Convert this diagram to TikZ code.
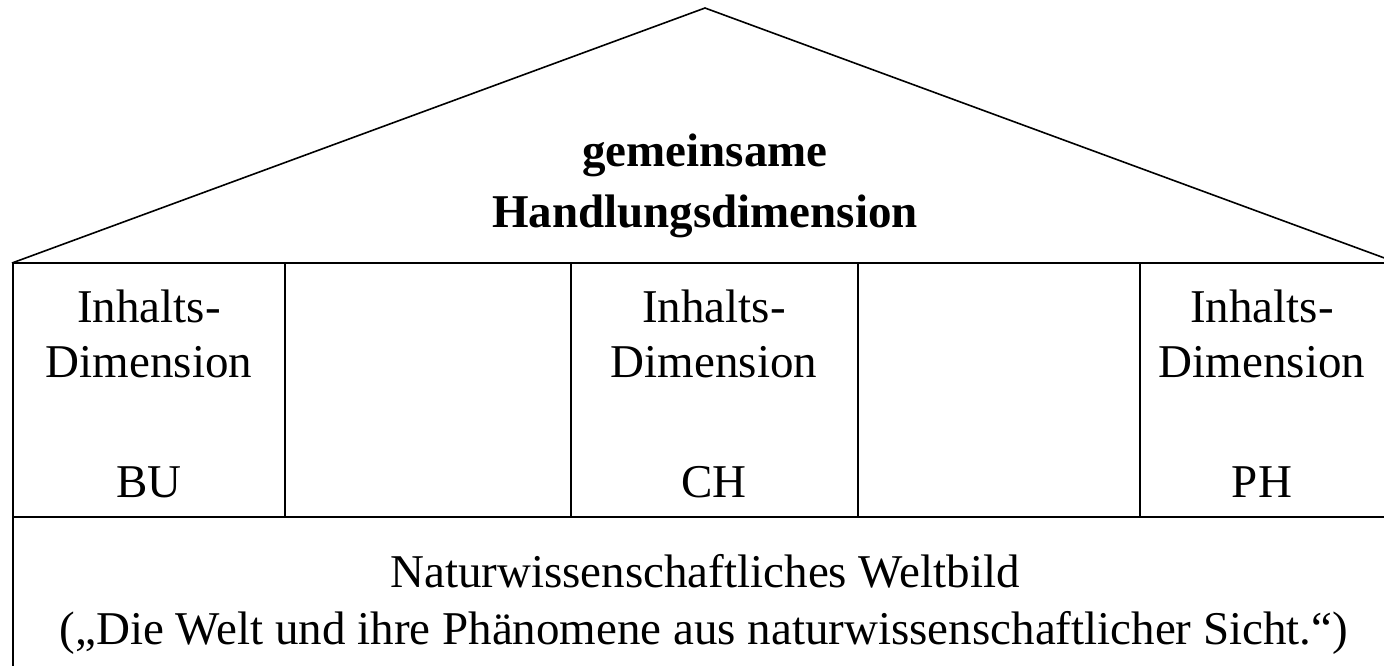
\documentclass[tikz,border=0pt]{standalone}
\usepackage{fontspec}
\setmainfont{Liberation Serif}
\begin{document}
\begin{tikzpicture}[x=1pt,y=-1pt,
  frame/.style={line width=1.6pt,black,line join=miter},
  txt/.style={font=\fontsize{47}{55}\selectfont,anchor=base,inner sep=0pt},
  btxt/.style={font=\fontsize{47}{55}\selectfont\bfseries,anchor=base,inner sep=0pt}]
\useasboundingbox (0,0) rectangle (1384,665);
\fill[white] (0,0) rectangle (1384,665);
\clip (0,0) rectangle (1384,665);
% key points
\coordinate (roofL) at (12,263);
\coordinate (apex) at (705,8);
\coordinate (roofR) at (1398,263);
\coordinate (baseL) at (13,517);
\coordinate (baseR) at (1398,517);
\coordinate (floorL) at (13,670);
% roof
\draw[frame] (roofL) -- (apex) -- (roofR);
\draw[frame] (roofL) -- (roofR);
% left wall
\draw[frame] (13,263) -- (floorL);
% dividers
\foreach \x/\n in {285/a,571/b,858/c,1140/d}{
  \draw[frame] (\x,263) -- (\x,517);
}
% floor line
\draw[frame] (baseL) -- (baseR);
% roof text
\node[btxt] (g1) at (705,166) {gemeinsame};
\node[btxt] (g2) at (705,227) {Handlungsdimension};
% columns
\node[txt] (i1) at (149,322) {Inhalts-};
\node[txt] (d1) at (149,377) {Dimension};
\node[txt] (bu) at (149,497) {BU};
\node[txt] (i2) at (714,322) {Inhalts-};
\node[txt] (d2) at (714,377) {Dimension};
\node[txt] (ch) at (714,497) {CH};
\node[txt] (i3) at (1262,322) {Inhalts-};
\node[txt] (d3) at (1262,377) {Dimension};
\node[txt] (ph) at (1262,497) {PH};
% base text
\node[txt] (n1) at (705,587) {Naturwissenschaftliches Weltbild};
\node[txt] (n2) at (704,644) {(„Die Welt und ihre Phänomene aus naturwissenschaftlicher Sicht.“)};
\end{tikzpicture}
\end{document}
